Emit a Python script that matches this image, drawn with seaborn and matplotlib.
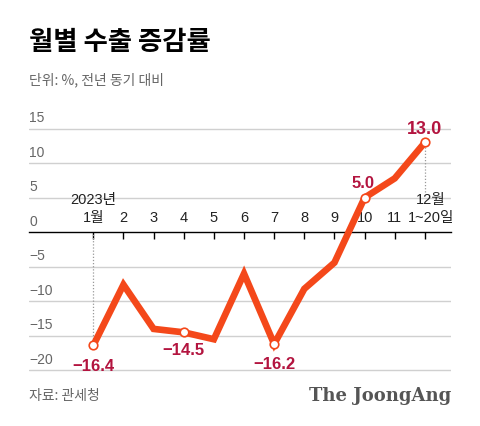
import matplotlib
matplotlib.use("Agg")
import matplotlib.pyplot as plt
import pandas as pd
import seaborn as sns

sns.set_theme(style="white")
plt.rcParams["font.family"] = ["Liberation Sans", "Noto Sans CJK KR", "DejaVu Sans"]
plt.rcParams["axes.unicode_minus"] = True

# ----------------------------------------------------------------------
# DATA
# ----------------------------------------------------------------------
months = [1, 2, 3, 4, 5, 6, 7, 8, 9, 10, 11, 12]
growth = [-16.4, -7.6, -14.0, -14.5, -15.5, -6.0, -16.2, -8.2, -4.4, 5.0, 7.8, 13.0]
month_labels = ["1월", "2", "3", "4", "5", "6", "7", "8", "9", "10", "11", "1~20일"]
labeled_months = [1, 4, 7, 10, 12]
y_ticks = [-20, -15, -10, -5, 0, 5, 10, 15]

df = pd.DataFrame({"month": months, "growth": growth})
marks = df[df["month"].isin(labeled_months)]

LINE_COLOR = "#f4481a"
LABEL_COLOR = "#b3143f"
GRAY = "#666666"
KR = ["Noto Sans CJK KR", "DejaVu Sans"]
LAT = ["Liberation Sans"] + KR

W, H = 480, 426
fig = plt.figure(figsize=(W / 100, H / 100), dpi=100)
fig.patch.set_facecolor("white")

# axes placed in pixel terms: x 29..451, y 110..380
ax = fig.add_axes([29 / W, (H - 380) / H, 422 / W, 270 / H])
ax.set_xlim(1 - 64 / 30, 12 + 26 / 30)
ax.set_ylim(-21.4, 17.7)

for s in ["top", "right", "left"]:
    ax.spines[s].set_visible(False)
ax.spines["bottom"].set_position(("data", 0))
ax.spines["bottom"].set_color("black")
ax.spines["bottom"].set_linewidth(1.0)
ax.set_zorder(1)

# grid
for v in y_ticks:
    if v != 0:
        ax.axhline(v, color="#d0d0d0", lw=1.0, zorder=0)
    ax.text(ax.get_xlim()[0], v + 0.5, f"{v}".replace("-", "\u2212"),
            ha="left", va="bottom", fontsize=10, color=GRAY)

ax.set_yticks([])
ax.set_xticks(months)
ax.set_xticklabels([])
ax.tick_params(axis="x", direction="out", length=5, width=1, color="black", bottom=True)

# x labels above axis
for m, lab in zip(months, month_labels):
    xm = 12.2 if m == 12 else m
    ax.text(xm, 1.0, lab, ha="center", va="bottom", fontsize=10.5, color="#222222",
            family=LAT)
ax.text(1, 3.6, "2023년", ha="center", va="bottom", fontsize=10.5, color="#222222",
        family=LAT)
ax.text(12.2, 3.6, "12월", ha="center", va="bottom", fontsize=10.5, color="#222222",
        family=LAT)

# dotted guides
ax.vlines(1, growth[0], 0, colors="#999999", linestyles=(0, (1, 1.5)), lw=0.9, zorder=1)
ax.vlines(12, 5.8, growth[-1], colors="#999999", linestyles=(0, (1, 1.5)), lw=0.9, zorder=1)

sns.lineplot(data=df, x="month", y="growth", color=LINE_COLOR, lw=4.8, ax=ax,
             zorder=3, solid_joinstyle="miter")
sns.scatterplot(data=marks, x="month", y="growth", s=38, color="white",
                edgecolor=LINE_COLOR, linewidth=1.2, ax=ax, zorder=4)
ax.set_xlabel("")
ax.set_ylabel("")

# value labels
offsets = {1: (0, -2.0, "top"), 4: (0, -1.6, "top"), 7: (0, -1.9, "top"),
           10: (-0.05, 0.9, "bottom"), 12: (0, 0.6, "bottom")}
for m, v in zip(marks["month"], marks["growth"]):
    dx, dy, va = offsets[m]
    txt = f"{v:.1f}".replace("-", "\u2212")
    ax.text(m + dx, v + dy, txt, ha="center", va=va, fontsize=13 if m == 12 else 12,
            fontweight="bold", color=LABEL_COLOR)

# titles and footer
fig.text(29 / W, 1 - 43 / H, "월별 수출 증감률", ha="left", va="center",
         fontsize=19, fontweight="heavy", color="black", family=KR)
fig.text(29 / W, 1 - 80 / H, "단위: %, 전년 동기 대비", ha="left", va="center",
         fontsize=10, color=GRAY, family=KR)
fig.text(29 / W, 1 - 396 / H, "자료: 관세청", ha="left", va="center",
         fontsize=10, color=GRAY, family=KR)
fig.text(451 / W, 1 - 396 / H, "The JoongAng", ha="right", va="center",
         fontsize=13, fontweight="bold", color="#555555", family=["DejaVu Serif"])

fig.savefig("out.png", dpi=100, facecolor="white")
